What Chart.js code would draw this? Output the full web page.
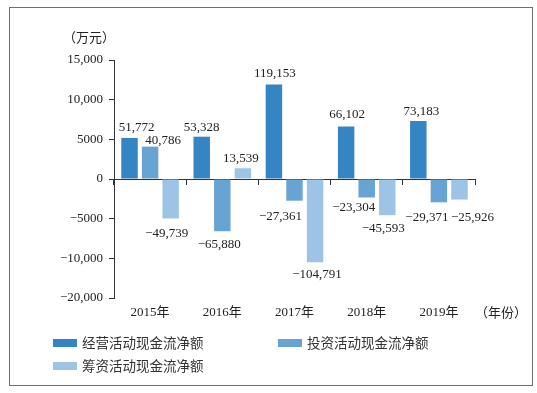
<!DOCTYPE html>
<html>
<head>
<meta charset="utf-8">
<script src="https://cdn.jsdelivr.net/npm/chart.js@4"></script>
<style>
  body { margin: 0; background: #fff; }
  #wrap { position: relative; width: 537px; height: 393px; }
  #frame { position: absolute; left: 9px; top: 7px; width: 524px; height: 379px; box-sizing: border-box; border: 1.5px solid #6e6e6e; pointer-events: none; }
  #legend { position: absolute; left: 53px; top: 332px; display: grid; grid-template-columns: 225px auto; row-gap: 3px;
            font: 13.5px "Liberation Serif", "Noto Sans CJK SC", serif; color: #333; }
  #legend span.sw { display: inline-block; width: 24px; height: 8px; margin-right: 5px; vertical-align: 1px; }
</style>
</head>
<body>
<div id="wrap">
  <canvas id="cashChart" width="537" height="393"></canvas>
  <div id="frame"></div>
  <div id="legend"></div>
</div>
<script>
// chart data (万元)
const years = ['2015年', '2016年', '2017年', '2018年', '2019年'];
const operating = [51772, 53328, 119153, 66102, 73183];
const investing = [40786, -65880, -27361, -23304, -29371];
const financing = [-49739, 13539, -104791, -45593, -25926];
const seriesNames = ['经营活动现金流净额', '投资活动现金流净额', '筹资活动现金流净额'];
// axis labels as printed, bottom to top
const yTickLabels = ['−20,000', '−10,000', '−5000', '0', '5000', '10,000', '15,000'];

const colors = ['#3584c4', '#67a4d3', '#9dc4e4'];
const textColor = '#222';
const numFont = { family: '"Liberation Serif", "Noto Sans CJK SC", serif', size: 13 };

// small nudges for the value labels so they don't collide [dx, dy]
const labelShift = [
  [[7, -1], [0, 0], [1, -1], [1, -3], [3, 0]],
  [[13, 3], [-3, 0], [-14, 2], [-13, -3], [-12, 2]],
  [[-4, 2], [-2, 0], [2, -1], [-4, 0], [13, 4]]
];

function fmt(v) {
  return (v < 0 ? '−' : '') + Math.abs(v).toLocaleString('en-US');
}

//value labels above / below the bars
const valueLabels = {
  id: 'valueLabels',
  afterDatasetsDraw(chart) {
    const ctx = chart.ctx;
    ctx.save();
    ctx.font = '13px "Liberation Serif", serif';
    ctx.fillStyle = textColor;
    ctx.textAlign = 'center';
    ctx.textBaseline = 'alphabetic';
    chart.data.datasets.forEach((ds, di) => {
      chart.getDatasetMeta(di).data.forEach((bar, i) => {
        const v = ds.data[i];
        const [dx, dy] = labelShift[di][i];
        const y = v >= 0 ? bar.y - 6 : bar.y + 17;
        ctx.fillText(fmt(v), bar.x + dx, y + dy);
      });
    });
    ctx.restore();
  }
};

//unit captions
const unitText = {
  id: 'unitText',
  afterDraw(chart) {
    const ctx = chart.ctx;
    const area = chart.chartArea;
    ctx.save();
    ctx.font = '13px "Noto Sans CJK SC", serif';
    ctx.fillStyle = textColor;
    ctx.textAlign = 'center';
    ctx.textBaseline = 'middle';
    ctx.fillText('（万元）', area.left - 25, 37);
    ctx.fillText('（年份）', area.right + 26, area.bottom + 14);
    ctx.restore();
  }
};

const cashData = {
  labels: years,
  datasets: [
    { label: seriesNames[0], data: operating, backgroundColor: colors[0] },
    { label: seriesNames[1], data: investing, backgroundColor: colors[1] },
    { label: seriesNames[2], data: financing, backgroundColor: colors[2] }
  ]
};

const cashOptions = {
  responsive: false,
  animation: false,
  layout: { padding: { left: 54, top: 60, right: 62, bottom: 69 } },
  datasets: { bar: { categoryPercentage: 0.855, barPercentage: 0.8 } },
  plugins: { legend: { display: false }, tooltip: { enabled: false } },
  scales: {
    x: {
      position: { y: 0 },
      offset: true,
      grid: { display: true, drawOnChartArea: false, offset: true, tickLength: 5, color: '#333' },
      border: { display: true, color: '#333', width: 1 },
      ticks: { display: false },
      afterFit: s => { s.height = 0; }
    },
    x2: {
      type: 'category',
      position: 'bottom',
      labels: years,
      offset: true,
      grid: { display: false },
      border: { display: false },
      ticks: { color: textColor, font: numFont, padding: -1 },
      afterFit: s => { s.height = 26; }
    },
    y: {
      min: -150000,
      max: 150000,
      ticks: {
        stepSize: 50000,
        callback: (v, i) => yTickLabels[i],
        padding: 6,
        color: textColor,
        font: numFont
      },
      grid: { drawOnChartArea: false, tickLength: 5, color: '#333' },
      border: { color: '#333', width: 1 },
      afterFit: s => { s.width = 60; }
    }
  }
};

const cashChart = new Chart(document.getElementById('cashChart'), {
  type: 'bar',
  data: cashData,
  options: cashOptions,
  plugins: [valueLabels, unitText]
});

//legend in two columns like the print
const legend = document.getElementById('legend');
cashData.datasets.forEach(ds => {
  const item = document.createElement('div');
  item.innerHTML = `<span class="sw" style="background:${ds.backgroundColor}"></span>${ds.label}`;
  legend.appendChild(item);
});
</script>
</body>
</html>
